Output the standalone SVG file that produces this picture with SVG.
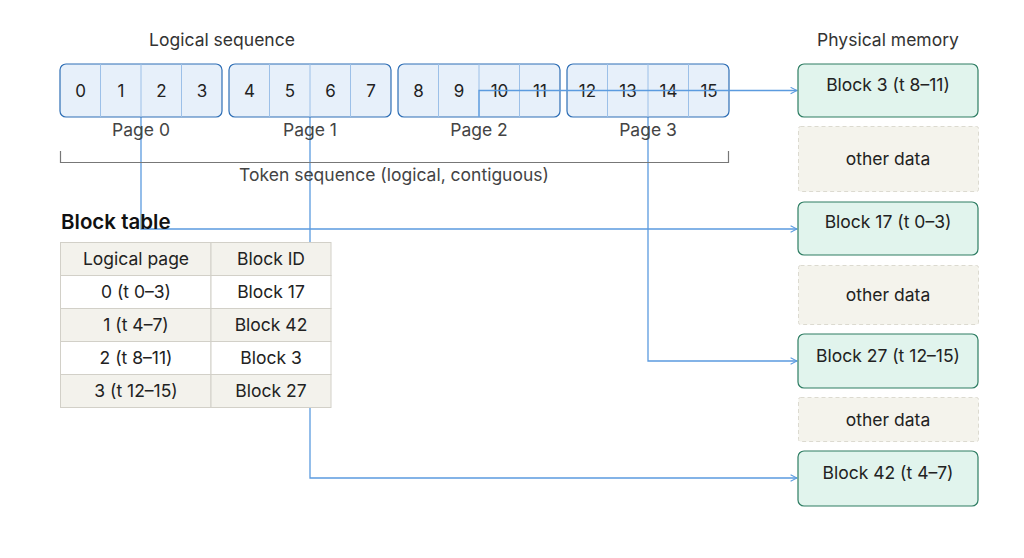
<svg xmlns="http://www.w3.org/2000/svg" width="1024" height="558" viewBox="0 0 1024 558">
<defs>
<marker id="arr" viewBox="0 0 10 10" refX="9" refY="5" markerWidth="8" markerHeight="8" markerUnits="userSpaceOnUse" orient="auto">
<path d="M1,1 L9,5 L1,9" fill="none" stroke="#5b9bdf" stroke-width="1.3"/>
</marker>
<style>
text{font-family:Inter,"Liberation Sans",sans-serif;fill:#222;}
.hdr{font-size:17.5px;fill:#333;text-anchor:middle;}
.num{font-size:17px;text-anchor:middle;}
.lbl{font-size:17.5px;fill:#444;text-anchor:middle;}
.page{fill:#e7f0fa;stroke:#2e6eb5;stroke-width:1.2;}
.div{stroke:#9cc0e8;stroke-width:1;}
.blk{fill:#e1f4ed;stroke:#2e7d63;stroke-width:1.2;}
.oth{fill:#f4f3ec;stroke:#dcdad0;stroke-width:1;stroke-dasharray:4 3;}
.btxt{font-size:17.5px;text-anchor:middle;fill:#222;}
.conn{fill:none;stroke:#5b9bdf;stroke-width:1.3;}
.tcell{stroke:#d2d0c8;stroke-width:1;}
.beige{fill:#f3f2ec;}
.white{fill:#ffffff;}
.ttxt{font-size:17.5px;text-anchor:middle;fill:#222;}
</style>
</defs>
<rect width="1024" height="558" fill="#ffffff"/>
<text class="hdr" x="222" y="46">Logical sequence</text>
<text class="hdr" x="888" y="46">Physical memory</text>

<g id="connectors">
<path class="conn" d="M141,117 V229 H797" marker-end="url(#arr)"/>
<path class="conn" d="M310,117 V478 H797" marker-end="url(#arr)"/>
<path class="conn" d="M648,117 V361 H797" marker-end="url(#arr)"/>
</g>

<g id="page0">
<rect class="page" x="60" y="64" width="162" height="53" rx="6"/>
<line class="div" x1="100.5" y1="64" x2="100.5" y2="117"/>
<line class="div" x1="141" y1="64" x2="141" y2="117"/>
<line class="div" x1="181.5" y1="64" x2="181.5" y2="117"/>
<text class="num" x="80.5" y="97">0</text><text class="num" x="121" y="97">1</text><text class="num" x="161.5" y="97">2</text><text class="num" x="202" y="97">3</text>
<text class="lbl" x="141" y="136">Page 0</text>
</g>
<g id="page1">
<rect class="page" x="229" y="64" width="162" height="53" rx="6"/>
<line class="div" x1="269.5" y1="64" x2="269.5" y2="117"/>
<line class="div" x1="310" y1="64" x2="310" y2="117"/>
<line class="div" x1="350.5" y1="64" x2="350.5" y2="117"/>
<text class="num" x="249.5" y="97">4</text><text class="num" x="290" y="97">5</text><text class="num" x="330.5" y="97">6</text><text class="num" x="371" y="97">7</text>
<text class="lbl" x="310" y="136">Page 1</text>
</g>
<g id="page2">
<rect class="page" x="398" y="64" width="162" height="53" rx="6"/>
<line class="div" x1="438.5" y1="64" x2="438.5" y2="117"/>
<line class="div" x1="479" y1="64" x2="479" y2="117"/>
<line class="div" x1="519.5" y1="64" x2="519.5" y2="117"/>
<text class="num" x="418.5" y="97">8</text><text class="num" x="459" y="97">9</text><text class="num" x="499.5" y="97">10</text><text class="num" x="540" y="97">11</text>
<text class="lbl" x="479" y="136">Page 2</text>
</g>
<g id="page3">
<rect class="page" x="567" y="64" width="162" height="53" rx="6"/>
<line class="div" x1="607.5" y1="64" x2="607.5" y2="117"/>
<line class="div" x1="648" y1="64" x2="648" y2="117"/>
<line class="div" x1="688.5" y1="64" x2="688.5" y2="117"/>
<text class="num" x="587.5" y="97">12</text><text class="num" x="628" y="97">13</text><text class="num" x="668.5" y="97">14</text><text class="num" x="709" y="97">15</text>
<text class="lbl" x="648" y="136">Page 3</text>
</g>

<g id="conn-page2">
<path class="conn" d="M479,117 V90.5 H797" marker-end="url(#arr)"/>
</g>

<g id="bracket">
<path d="M60.5,151 V162.5 H728.5 V151" fill="none" stroke="#777" stroke-width="1.2"/>
<text class="lbl" x="394" y="181">Token sequence (logical, contiguous)</text>
</g>

<g id="block-table">
<text x="61" y="229" style="font-size:20.5px;font-weight:600;fill:#111;">Block table</text>
<rect class="beige tcell" x="60.5" y="242.5" width="150.5" height="33"/>
<rect class="beige tcell" x="211" y="242.5" width="120" height="33"/>
<rect class="white tcell" x="60.5" y="275.5" width="150.5" height="33"/>
<rect class="white tcell" x="211" y="275.5" width="120" height="33"/>
<rect class="beige tcell" x="60.5" y="308.5" width="150.5" height="33"/>
<rect class="beige tcell" x="211" y="308.5" width="120" height="33"/>
<rect class="white tcell" x="60.5" y="341.5" width="150.5" height="33"/>
<rect class="white tcell" x="211" y="341.5" width="120" height="33"/>
<rect class="beige tcell" x="60.5" y="374.5" width="150.5" height="33"/>
<rect class="beige tcell" x="211" y="374.5" width="120" height="33"/>
<text class="ttxt" x="136" y="265">Logical page</text><text class="ttxt" x="271" y="265">Block ID</text>
<text class="ttxt" x="136" y="298">0 (t 0–3)</text><text class="ttxt" x="271" y="298">Block 17</text>
<text class="ttxt" x="136" y="331">1 (t 4–7)</text><text class="ttxt" x="271" y="331">Block 42</text>
<text class="ttxt" x="136" y="364">2 (t 8–11)</text><text class="ttxt" x="271" y="364">Block 3</text>
<text class="ttxt" x="136" y="397">3 (t 12–15)</text><text class="ttxt" x="271" y="397">Block 27</text>
</g>

<g id="block3"><rect class="blk" x="798" y="64" width="180" height="53" rx="6"/><text class="btxt" x="888" y="91">Block 3 (t 8–11)</text></g>
<g id="other1"><rect class="oth" x="798.5" y="126.5" width="180" height="65" rx="2"/><text class="btxt" x="888" y="165">other data</text></g>
<g id="block17"><rect class="blk" x="798" y="202" width="180" height="53" rx="6"/><text class="btxt" x="888" y="228">Block 17 (t 0–3)</text></g>
<g id="other2"><rect class="oth" x="798.5" y="265.5" width="180" height="59" rx="2"/><text class="btxt" x="888" y="301">other data</text></g>
<g id="block27"><rect class="blk" x="798" y="334" width="180" height="54" rx="6"/><text class="btxt" x="888" y="362">Block 27 (t 12–15)</text></g>
<g id="other3"><rect class="oth" x="798.5" y="397.5" width="180" height="44" rx="2"/><text class="btxt" x="888" y="426">other data</text></g>
<g id="block42"><rect class="blk" x="798" y="451" width="180" height="55" rx="6"/><text class="btxt" x="888" y="479">Block 42 (t 4–7)</text></g>
</svg>
